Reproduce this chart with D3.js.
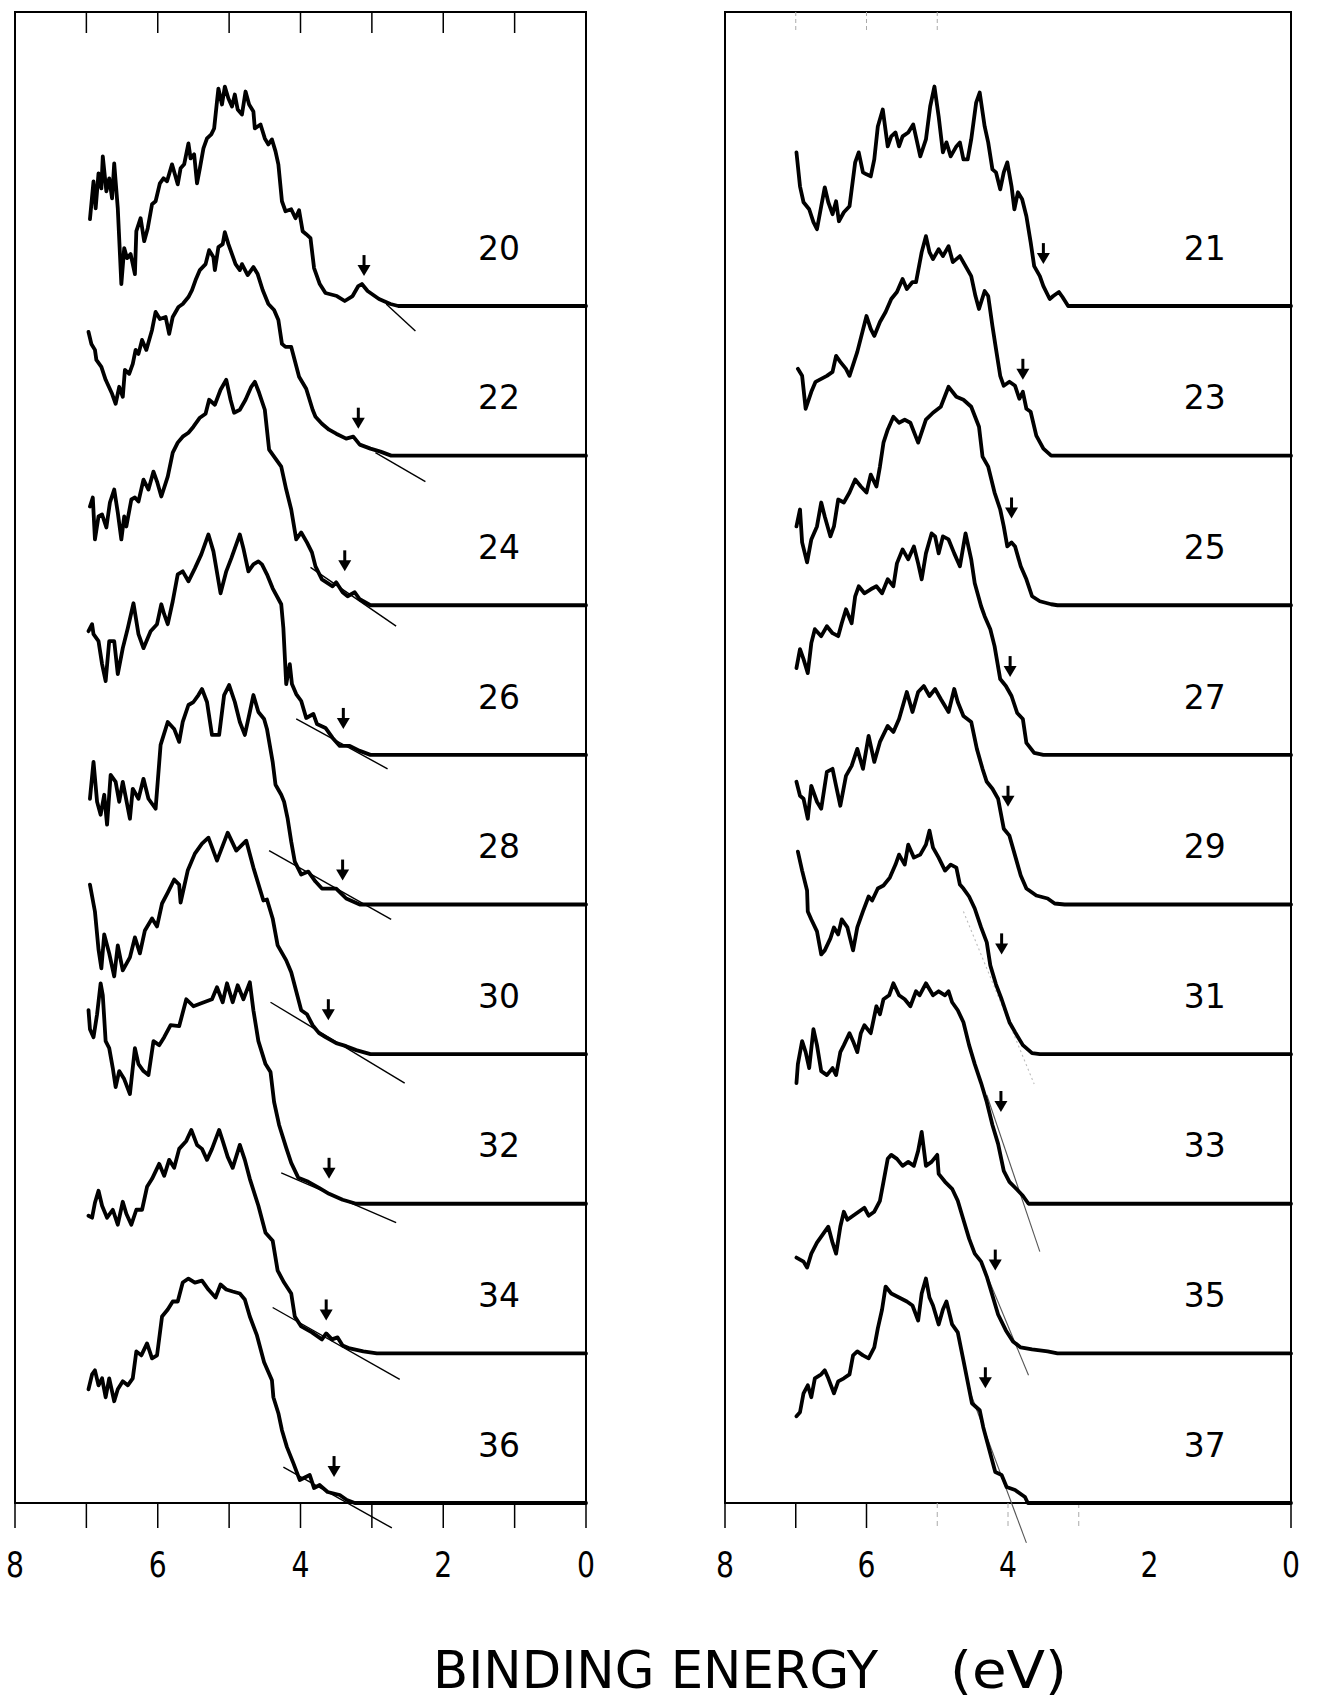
<!DOCTYPE html>
<html>
<head>
<meta charset="utf-8">
<script src="https://cdn.jsdelivr.net/npm/d3@7"></script>
<style>
  html, body { margin: 0; padding: 0; background: #fff; }
  svg { display: block; }
</style>
</head>
<body>
<div id="chart"></div>
<script>
// spectrum numbers, top to bottom
const leftLabels = ["20", "22", "24", "26", "28", "30", "32", "34", "36"];
const rightLabels = ["21", "23", "25", "27", "29", "31", "33", "35", "37"];
const xTickLabels = [8, 6, 4, 2, 0];
const xTitle = "BINDING ENERGY";
const xUnit = "(eV)";

// [binding energy (eV), intensity above the spectrum's own zero (arb.)]
const s20 = [[6.95,87],[6.90,125],[6.87,98],[6.83,133],[6.79,118],[6.77,150],[6.72,115],[6.68,128],[6.64,108],[6.61,143],[6.56,98],[6.51,22],[6.47,58],[6.43,48],[6.38,52],[6.32,32],[6.30,75],[6.24,88],[6.19,65],[6.14,78],[6.08,102],[6.03,105],[5.97,123],[5.92,128],[5.87,125],[5.80,142],[5.76,132],[5.72,122],[5.68,138],[5.63,142],[5.57,163],[5.54,148],[5.49,152],[5.45,123],[5.41,138],[5.36,158],[5.31,168],[5.25,172],[5.21,178],[5.17,205],[5.15,218],[5.10,202],[5.06,220],[5.01,208],[4.96,200],[4.92,212],[4.88,197],[4.82,192],[4.77,215],[4.72,202],[4.66,195],[4.64,178],[4.56,182],[4.50,168],[4.45,162],[4.40,167],[4.35,155],[4.31,142],[4.26,105],[4.21,95],[4.13,97],[4.07,88],[4.02,96],[3.97,75],[3.92,72],[3.86,68],[3.81,38],[3.73,22],[3.65,13],[3.49,10],[3.38,5],[3.27,10],[3.19,20],[3.14,22],[3.06,15],[2.90,7],[2.74,2],[2.63,0]];
const s22 = [[6.97,124],[6.93,112],[6.88,106],[6.86,96],[6.79,89],[6.73,76],[6.64,62],[6.59,52],[6.54,69],[6.49,59],[6.46,86],[6.40,82],[6.35,92],[6.31,106],[6.27,102],[6.22,116],[6.16,106],[6.08,126],[6.03,144],[5.97,137],[5.89,139],[5.84,122],[5.79,139],[5.71,149],[5.65,152],[5.57,159],[5.52,166],[5.47,176],[5.41,186],[5.33,192],[5.28,206],[5.22,199],[5.20,186],[5.15,209],[5.09,212],[5.06,224],[5.01,212],[4.96,202],[4.91,192],[4.85,186],[4.82,192],[4.74,181],[4.66,189],[4.60,182],[4.53,166],[4.45,152],[4.37,146],[4.31,136],[4.26,112],[4.21,109],[4.13,109],[4.02,79],[3.92,67],[3.83,46],[3.79,39],[3.70,32],[3.60,26],[3.50,22],[3.36,17],[3.26,19],[3.17,11],[3.02,7],[2.88,4],[2.73,0]];
const s24 = [[6.95,99],[6.91,108],[6.88,66],[6.83,89],[6.78,91],[6.72,78],[6.67,103],[6.61,116],[6.56,93],[6.51,66],[6.47,89],[6.44,79],[6.37,106],[6.32,108],[6.27,104],[6.20,126],[6.13,116],[6.06,134],[6.01,124],[5.95,109],[5.86,129],[5.79,153],[5.72,163],[5.65,169],[5.57,173],[5.50,179],[5.41,188],[5.33,192],[5.28,206],[5.20,201],[5.12,216],[5.04,226],[4.98,206],[4.93,193],[4.85,196],[4.77,206],[4.69,219],[4.64,224],[4.58,213],[4.50,196],[4.44,156],[4.37,149],[4.27,139],[4.20,116],[4.13,96],[4.06,66],[3.99,73],[3.91,63],[3.84,53],[3.79,39],[3.70,26],[3.55,19],[3.50,23],[3.41,13],[3.34,9],[3.24,13],[3.17,6],[3.02,0]];
const s26 = [[6.97,124],[6.92,131],[6.90,121],[6.83,114],[6.78,91],[6.73,74],[6.68,114],[6.61,114],[6.56,81],[6.49,107],[6.42,127],[6.34,152],[6.27,121],[6.20,107],[6.10,124],[6.01,131],[5.95,151],[5.91,141],[5.86,131],[5.79,154],[5.72,181],[5.65,184],[5.57,174],[5.48,187],[5.39,201],[5.29,221],[5.22,204],[5.12,162],[5.04,184],[4.97,197],[4.85,221],[4.80,207],[4.73,184],[4.66,191],[4.59,194],[4.54,191],[4.47,181],[4.39,167],[4.27,151],[4.24,127],[4.20,71],[4.15,91],[4.12,71],[4.06,61],[3.99,54],[3.92,37],[3.82,41],[3.77,31],[3.65,27],[3.55,17],[3.45,9],[3.31,9],[3.17,4],[3.02,0]];
const s28 = [[6.95,106],[6.90,143],[6.85,103],[6.80,90],[6.75,110],[6.71,80],[6.66,130],[6.59,123],[6.54,103],[6.49,123],[6.39,86],[6.35,116],[6.27,106],[6.20,126],[6.13,106],[6.03,96],[5.96,160],[5.86,183],[5.77,176],[5.70,163],[5.65,183],[5.57,200],[5.50,203],[5.43,210],[5.38,216],[5.31,203],[5.24,170],[5.14,170],[5.07,210],[5.00,220],[4.92,203],[4.85,183],[4.78,170],[4.71,193],[4.66,210],[4.59,193],[4.51,186],[4.47,176],[4.39,143],[4.35,120],[4.27,110],[4.23,103],[4.18,86],[4.13,63],[4.08,43],[3.99,30],[3.89,33],[3.79,23],[3.70,16],[3.50,16],[3.36,6],[3.17,0]];
const s30 = [[6.95,170],[6.88,143],[6.83,105],[6.79,86],[6.75,120],[6.68,101],[6.61,78],[6.56,109],[6.49,84],[6.39,97],[6.32,117],[6.25,101],[6.18,124],[6.08,136],[6.01,128],[5.94,151],[5.86,162],[5.77,175],[5.70,170],[5.68,152],[5.58,184],[5.48,201],[5.38,211],[5.29,217],[5.17,194],[5.02,222],[4.90,204],[4.76,214],[4.66,187],[4.52,154],[4.47,155],[4.39,136],[4.32,109],[4.20,94],[4.13,82],[4.06,63],[3.99,44],[3.91,40],[3.83,29],[3.74,21],[3.65,17],[3.50,11],[3.36,8],[3.22,4],[3.02,0]];
const s32 = [[6.97,194],[6.95,175],[6.90,167],[6.85,190],[6.80,221],[6.77,209],[6.73,163],[6.68,156],[6.63,136],[6.59,117],[6.54,133],[6.47,125],[6.39,110],[6.32,156],[6.27,140],[6.20,133],[6.13,129],[6.06,163],[5.98,159],[5.91,167],[5.82,179],[5.70,178],[5.60,205],[5.50,198],[5.39,201],[5.24,205],[5.17,217],[5.09,202],[5.03,221],[4.95,202],[4.88,219],[4.80,205],[4.71,222],[4.66,194],[4.59,163],[4.49,140],[4.42,132],[4.37,102],[4.30,79],[4.20,56],[4.13,41],[4.03,26],[3.89,22],[3.74,16],[3.60,10],[3.41,4],[3.22,0]];
const s34 = [[6.97,138],[6.92,136],[6.88,151],[6.83,163],[6.78,148],[6.71,136],[6.63,144],[6.56,129],[6.49,152],[6.44,140],[6.37,129],[6.30,144],[6.22,144],[6.15,167],[6.08,175],[5.98,190],[5.91,178],[5.84,194],[5.77,186],[5.70,205],[5.60,213],[5.53,224],[5.45,209],[5.38,205],[5.31,194],[5.24,205],[5.14,224],[5.09,213],[5.02,197],[4.95,186],[4.85,209],[4.78,194],[4.71,175],[4.59,148],[4.49,121],[4.39,113],[4.32,83],[4.23,71],[4.13,60],[4.08,37],[3.99,27],[3.84,21],[3.70,14],[3.64,20],[3.56,14],[3.48,16],[3.41,8],[3.31,5],[3.12,2],[2.93,0]];
const s36 = [[6.97,114],[6.92,129],[6.88,133],[6.83,118],[6.78,125],[6.73,106],[6.68,125],[6.61,102],[6.56,114],[6.49,122],[6.42,118],[6.35,125],[6.30,152],[6.23,148],[6.15,160],[6.08,145],[6.01,148],[5.94,187],[5.86,194],[5.79,202],[5.72,202],[5.65,221],[5.57,225],[5.48,221],[5.38,223],[5.29,214],[5.19,206],[5.12,219],[5.04,214],[4.95,212],[4.85,210],[4.78,204],[4.71,187],[4.61,168],[4.51,141],[4.40,123],[4.38,106],[4.31,90],[4.26,73],[4.19,56],[4.10,40],[4.01,23],[3.87,28],[3.81,15],[3.73,18],[3.62,11],[3.45,8],[3.35,3],[3.24,0]];

const s21 = [[6.99,154],[6.94,120],[6.89,104],[6.81,97],[6.75,84],[6.70,77],[6.64,100],[6.59,119],[6.54,104],[6.48,92],[6.43,105],[6.39,85],[6.32,94],[6.24,100],[6.16,144],[6.11,154],[6.05,134],[6.00,132],[5.94,130],[5.89,147],[5.84,180],[5.77,197],[5.70,160],[5.65,170],[5.59,174],[5.54,160],[5.49,170],[5.41,174],[5.34,182],[5.24,150],[5.16,167],[5.10,200],[5.04,220],[4.98,190],[4.92,154],[4.87,164],[4.81,150],[4.73,160],[4.68,164],[4.63,147],[4.57,147],[4.52,167],[4.45,204],[4.40,214],[4.33,180],[4.28,164],[4.22,137],[4.17,134],[4.11,117],[4.06,134],[4.01,144],[3.95,120],[3.91,97],[3.86,114],[3.80,107],[3.74,90],[3.68,64],[3.63,40],[3.55,30],[3.50,20],[3.41,7],[3.36,10],[3.28,14],[3.23,9],[3.15,0]];
const s23 = [[6.97,87],[6.91,80],[6.86,47],[6.78,64],[6.72,74],[6.64,77],[6.56,80],[6.48,84],[6.43,100],[6.37,94],[6.29,87],[6.24,80],[6.13,104],[6.00,140],[5.94,127],[5.89,120],[5.81,134],[5.73,144],[5.65,157],[5.57,164],[5.49,177],[5.43,167],[5.35,174],[5.30,174],[5.22,204],[5.16,220],[5.11,204],[5.06,197],[4.98,207],[4.92,200],[4.84,210],[4.78,194],[4.68,200],[4.60,190],[4.52,180],[4.46,160],[4.41,147],[4.33,165],[4.28,160],[4.22,130],[4.17,107],[4.11,80],[4.06,70],[3.98,74],[3.90,70],[3.84,57],[3.79,64],[3.74,47],[3.68,44],[3.60,20],[3.50,7],[3.39,0]];
const s25 = [[6.99,79],[6.94,96],[6.91,63],[6.84,43],[6.78,66],[6.70,79],[6.64,103],[6.59,89],[6.51,69],[6.46,79],[6.40,106],[6.32,103],[6.24,113],[6.16,126],[6.08,119],[6.00,113],[5.94,131],[5.86,119],[5.81,139],[5.76,163],[5.70,176],[5.62,189],[5.54,183],[5.46,186],[5.38,183],[5.27,163],[5.16,186],[5.06,193],[4.95,199],[4.84,219],[4.73,209],[4.63,206],[4.52,199],[4.41,179],[4.36,149],[4.28,139],[4.19,113],[4.11,96],[4.06,79],[4.01,59],[3.95,63],[3.90,59],[3.82,39],[3.74,26],[3.66,9],[3.55,4],[3.39,1],[3.30,0]];
const s27 = [[6.99,87],[6.94,106],[6.89,96],[6.83,82],[6.78,112],[6.73,126],[6.64,119],[6.56,129],[6.48,122],[6.40,119],[6.35,132],[6.29,146],[6.21,132],[6.16,159],[6.11,169],[6.03,162],[5.94,166],[5.86,169],[5.78,162],[5.70,176],[5.62,169],[5.57,192],[5.49,206],[5.41,196],[5.33,209],[5.27,192],[5.22,176],[5.16,202],[5.08,222],[5.03,219],[4.98,202],[4.92,219],[4.84,216],[4.76,202],[4.68,189],[4.60,222],[4.52,196],[4.47,172],[4.38,149],[4.33,139],[4.25,126],[4.19,109],[4.11,76],[4.03,69],[3.95,59],[3.87,42],[3.79,36],[3.74,12],[3.63,2],[3.50,0]];
const s29 = [[6.99,123],[6.94,109],[6.89,106],[6.83,86],[6.78,119],[6.70,103],[6.64,96],[6.56,133],[6.48,136],[6.43,119],[6.37,99],[6.29,129],[6.21,139],[6.13,156],[6.05,136],[5.97,169],[5.89,143],[5.81,163],[5.70,179],[5.62,173],[5.54,186],[5.43,213],[5.35,193],[5.27,213],[5.19,219],[5.11,209],[5.03,216],[4.95,206],[4.84,193],[4.76,216],[4.71,203],[4.63,189],[4.52,183],[4.44,156],[4.36,136],[4.30,123],[4.22,116],[4.14,106],[4.06,76],[3.98,69],[3.90,49],[3.82,29],[3.74,16],[3.60,9],[3.44,6],[3.34,1],[3.20,0]];
const s31 = [[6.97,203],[6.91,184],[6.84,164],[6.83,143],[6.78,135],[6.70,123],[6.64,100],[6.59,104],[6.51,116],[6.46,127],[6.40,120],[6.35,135],[6.27,127],[6.19,104],[6.13,127],[6.05,143],[5.97,158],[5.92,154],[5.84,166],[5.76,169],[5.67,177],[5.59,190],[5.54,200],[5.46,190],[5.41,210],[5.33,197],[5.24,200],[5.16,210],[5.11,224],[5.06,207],[4.98,197],[4.89,184],[4.81,190],[4.73,187],[4.68,170],[4.63,166],[4.55,158],[4.47,146],[4.38,127],[4.30,112],[4.25,89],[4.17,70],[4.09,55],[3.98,32],[3.90,22],[3.79,9],[3.66,1],[3.55,0]];
const s33 = [[6.99,121],[6.97,140],[6.91,163],[6.86,152],[6.81,136],[6.75,175],[6.70,159],[6.64,133],[6.56,129],[6.48,136],[6.43,129],[6.37,152],[6.32,159],[6.24,171],[6.19,163],[6.13,152],[6.08,171],[6.03,179],[5.94,171],[5.86,198],[5.81,190],[5.76,205],[5.68,209],[5.62,221],[5.54,209],[5.46,205],[5.38,198],[5.30,213],[5.25,209],[5.16,221],[5.06,209],[4.98,213],[4.89,209],[4.84,213],[4.79,202],[4.71,194],[4.63,182],[4.55,159],[4.47,140],[4.38,121],[4.30,102],[4.22,79],[4.14,60],[4.06,33],[3.98,22],[3.87,14],[3.79,8],[3.71,0]];
const s35 = [[6.99,96],[6.94,94],[6.89,92],[6.84,86],[6.78,100],[6.70,111],[6.62,119],[6.54,127],[6.48,111],[6.43,100],[6.37,127],[6.32,142],[6.27,134],[6.19,138],[6.11,142],[6.03,146],[5.97,138],[5.89,142],[5.81,153],[5.76,172],[5.70,195],[5.65,199],[5.57,195],[5.49,188],[5.41,192],[5.33,188],[5.27,203],[5.22,222],[5.16,188],[5.08,192],[5.00,199],[4.98,180],[4.89,172],[4.79,165],[4.71,153],[4.63,134],[4.55,115],[4.47,100],[4.38,92],[4.30,77],[4.22,58],[4.14,39],[4.03,23],[3.93,12],[3.82,6],[3.66,4],[3.44,2],[3.30,0]];
const s37 = [[6.99,87],[6.94,91],[6.89,110],[6.83,118],[6.78,106],[6.73,125],[6.64,129],[6.59,133],[6.54,125],[6.46,110],[6.40,122],[6.32,125],[6.24,129],[6.19,148],[6.13,152],[6.05,148],[5.97,145],[5.89,156],[5.84,175],[5.78,194],[5.73,217],[5.65,210],[5.54,206],[5.43,202],[5.35,198],[5.27,183],[5.22,210],[5.16,225],[5.11,206],[5.06,198],[4.98,179],[4.92,194],[4.87,202],[4.79,179],[4.71,171],[4.63,143],[4.51,100],[4.40,93],[4.35,76],[4.18,31],[4.09,28],[4.02,16],[3.90,13],[3.76,6],[3.72,0]];

// onset arrows: [energy, intensity at arrow tip]
const leftArrows = [[3.11,30],[3.19,27],[3.38,34],[3.40,26],[3.41,24],[3.61,34],[3.60,25],[3.64,33],[3.53,26]];
const rightArrows = [[3.50,42],[3.79,76],[3.95,87],[3.97,78],[4.00,98],[4.09,100],[4.10,92],[4.18,83],[4.32,115]];

// extrapolated edge lines: [E1, I1, E2, I2]
const leftTangents = [[2.80,2,2.39,-25],[2.95,3,2.25,-26],[3.86,38,2.66,-21],[4.06,36,2.78,-14],[4.44,54,2.73,-15],[4.42,52,2.54,-29],[4.27,31,2.66,-19],[4.39,46,2.61,-26],[4.24,36,2.72,-25]];
const rightTangents = [null,null,null,null,null,[4.63,143,3.63,-30],[4.30,109,3.55,-48],[4.36,89,3.71,-22],[4.55,114,3.74,-40]];

const width = 1317, height = 1708;
const frameTop = 12, frameBottom = 1503;
const step = 150;

const svg = d3.select("#chart").append("svg")
  .attr("width", width)
  .attr("height", height)
  .attr("viewBox", [0, 0, width, height]);

const y = d3.scaleLinear().domain([0, 8 * step]).range([frameBottom, 306]);

const panels = [
  {
    x: d3.scaleLinear().domain([8, 0]).range([15, 586]),
    labels: leftLabels,
    series: [s20, s22, s24, s26, s28, s30, s32, s34, s36],
    arrows: leftArrows,
    tangents: leftTangents,
    topTicks: [7, 6, 5, 4, 3, 2, 1], faintTop: [],
    bottomTicks: [8, 7, 6, 5, 4, 3, 2, 1, 0], faintBottom: []
  },
  {
    x: d3.scaleLinear().domain([8, 0]).range([725, 1291]),
    labels: rightLabels,
    series: [s21, s23, s25, s27, s29, s31, s33, s35, s37],
    arrows: rightArrows,
    tangents: rightTangents,
    topTicks: [], faintTop: [7, 6, 5],
    bottomTicks: [8, 7, 6, 0], faintBottom: [5, 4, 3]
  }
];

panels.forEach((p, pi) => {
  const x = p.x;
  const g = svg.append("g");

  // frame
  g.append("rect")
    .attr("x", x(8)).attr("y", frameTop)
    .attr("width", x(0) - x(8)).attr("height", frameBottom - frameTop)
    .attr("fill", "none").attr("stroke", "#000").attr("stroke-width", 2);

  // ticks
  g.selectAll(".tt").data(p.topTicks).join("line")
    .attr("x1", d => x(d)).attr("x2", d => x(d))
    .attr("y1", frameTop).attr("y2", frameTop + 21)
    .attr("stroke", "#000").attr("stroke-width", 1.5);
  g.selectAll(".ft").data(p.faintTop).join("line")
    .attr("x1", d => x(d)).attr("x2", d => x(d))
    .attr("y1", frameTop).attr("y2", frameTop + 21)
    .attr("stroke", "#aaa").attr("stroke-width", 1).attr("stroke-dasharray", "4,3");
  g.selectAll(".bt").data(p.bottomTicks).join("line")
    .attr("x1", d => x(d)).attr("x2", d => x(d))
    .attr("y1", frameBottom).attr("y2", frameBottom + 25)
    .attr("stroke", "#000").attr("stroke-width", 1.5);
  g.selectAll(".fb").data(p.faintBottom).join("line")
    .attr("x1", d => x(d)).attr("x2", d => x(d))
    .attr("y1", frameBottom).attr("y2", frameBottom + 25)
    .attr("stroke", "#aaa").attr("stroke-width", 1).attr("stroke-dasharray", "5,4");

  g.selectAll(".tl").data(xTickLabels).join("text")
    .attr("x", d => x(d) - 9).attr("y", 1577)
    .attr("textLength", 18).attr("lengthAdjust", "spacingAndGlyphs")
    .attr("font-family", "DejaVu Sans, sans-serif").attr("font-size", 35)
    .text(d => d);

  // tangent lines
  p.tangents.forEach((t, k) => {
    if (!t) return;
    const off = (8 - k) * step;
    const faint = pi === 1 && k === 5;
    g.append("line")
      .attr("x1", x(t[0])).attr("y1", y(t[1] + off))
      .attr("x2", x(t[2])).attr("y2", y(t[3] + off))
      .attr("stroke", pi === 0 ? "#000" : (faint ? "#bbb" : "#555"))
      .attr("stroke-width", pi === 0 ? 1.4 : 1.1)
      .attr("stroke-dasharray", faint ? "2,3" : null);
  });

  // spectra
  p.series.forEach((s, k) => {
    const off = (8 - k) * step;
    const line = d3.line().x(d => x(d[0])).y(d => y(d[1] + off));
    g.append("path")
      .attr("d", line(s.concat([[0, 0]])))
      .attr("fill", "none").attr("stroke", "#000")
      .attr("stroke-width", 3.8)
      .attr("stroke-linejoin", "round").attr("stroke-linecap", "round");
  });

  // arrows
  p.arrows.forEach(([e, h], k) => {
    const off = (8 - k) * step;
    const ax = x(e), ty = y(h + off);
    g.append("line")
      .attr("x1", ax).attr("x2", ax).attr("y1", ty - 21).attr("y2", ty - 8)
      .attr("stroke", "#000").attr("stroke-width", 3);
    g.append("path")
      .attr("d", `M${ax - 6.5},${ty - 11}L${ax + 6.5},${ty - 11}L${ax},${ty}Z`)
      .attr("fill", "#000");
  });

  // spectrum numbers
  p.labels.forEach((lab, k) => {
    const off = (8 - k) * step;
    g.append("text")
      .attr("x", x(1.22)).attr("y", y(58 + off))
      .attr("text-anchor", "middle").attr("dominant-baseline", "central")
      .attr("font-family", "DejaVu Sans, sans-serif").attr("font-size", 33)
      .text(lab);
  });
});

// axis title
svg.append("text")
  .attr("x", 433).attr("y", 1688)
  .attr("textLength", 445).attr("lengthAdjust", "spacingAndGlyphs")
  .attr("font-family", "DejaVu Sans, sans-serif").attr("font-size", 52)
  .text(xTitle);
svg.append("text")
  .attr("x", 950).attr("y", 1688)
  .attr("textLength", 117).attr("lengthAdjust", "spacingAndGlyphs")
  .attr("font-family", "DejaVu Sans, sans-serif").attr("font-size", 52)
  .text(xUnit);
</script>
</body>
</html>
